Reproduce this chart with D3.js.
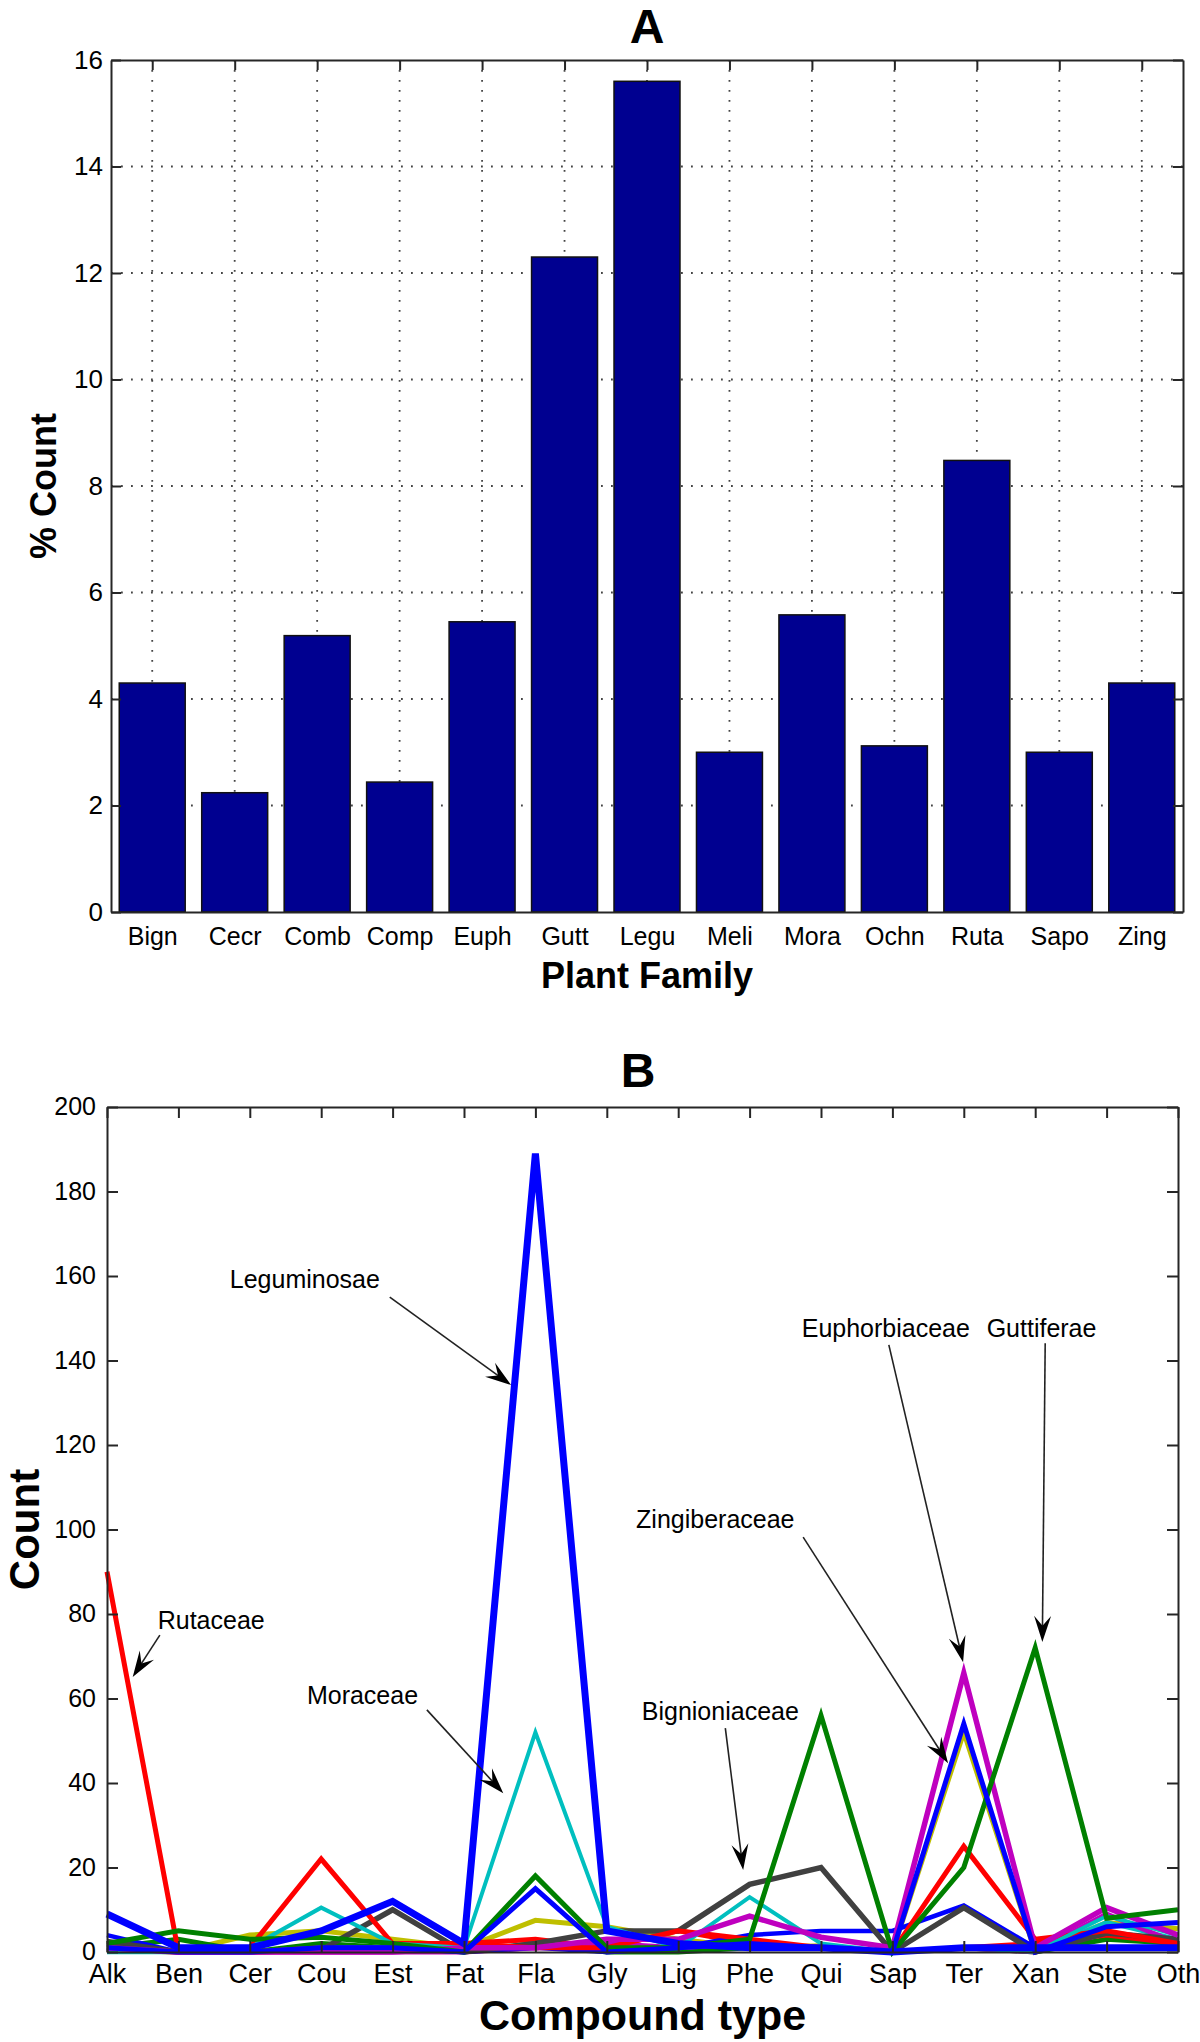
<!DOCTYPE html>
<html><head><meta charset="utf-8">
<script src="https://cdn.jsdelivr.net/npm/d3@7"></script>
<style>body{margin:0;background:#fff} svg{display:block}</style>
</head><body>
<svg id="c" width="1200" height="2042"></svg>
<script>
// ---------- DATA ----------
const plantFamilies = ["Bign","Cecr","Comb","Comp","Euph","Gutt","Legu","Meli","Mora","Ochn","Ruta","Sapo","Zing"];
const percentCount  = [4.30, 2.24, 5.19, 2.44, 5.45, 12.30, 15.60, 3.00, 5.58, 3.12, 8.48, 3.00, 4.30];
const yTicksA = [0,2,4,6,8,10,12,14,16];

const compoundTypes = ["Alk","Ben","Cer","Cou","Est","Fat","Fla","Gly","Lig","Phe","Qui","Sap","Ter","Xan","Ste","Oth"];
const yTicksB = [0,20,40,60,80,100,120,140,160,180,200];
//                   Alk Ben Cer  Cou  Est Fat  Fla Gly Lig Phe  Qui Sap  Ter Xan  Ste Oth
const combretaceae = [0.5, 0,  4,   5,   3,  1,  7.5, 6,  3,  1,  1.5, 0,  52,  0,   7, 5.5];
const compositae   = [4,   0,  0,   1,   1,  0,  1,   0,  1,  4,  5,   5,  11,  1,   1,   1];
const meliaceae    = [1,   3,  0,   2,   1,  0,  2,   0,  0,  1,  1,   0,   1,  0,   3,   2];
const ochnaceae    = [0.5, 0,  0,   1,   1,  2,  3,   1,  5,  2,  1,   0,   1,  2,   4,   2];
const cecropiaceae = [0,   0,  0,   1,   1,  0,  2,   1,  1,  2,  1,   0,   1,  0,   7,   3];
const sapotaceae   = [1,   0,  0,   0,   0,  0,  1,   2,  1,  2,  1,   0,   1,  0,   9,   2];
const bignioniaceae= [2.5, 0,  0, 0.5,  10,  0,  2,   5,  5, 16, 20,   0, 10.5, 0, 4.5,   3];
const rutaceae     = [90,  0,  1,  22,   2,  2,  1,   1,  5,  3,  1,   0,  25,  3,   5,   2];
const moraceae     = [1,   0,  1, 10.5,  2,  1, 52,   6,  1, 13,  2,   0,   1,  0, 8.5,   4];
const euphorbiaceae= [1,   0,  0,   0,   0,  1,  1,   3,  3, 8.5, 3.5, 1,  66,  1, 10.5,  4];
const guttiferae   = [2,   5,  3, 3.5,   2,  0, 18,   1,  1,  3, 56,   0,  20, 72,   8,  10];
const zingiberaceae= [1,   0,  0,   1,   1,  0, 15,   0,  1,  2,  1,   0,  54,  0,   6,   7];
const leguminosae  = [9,   1,  1,   5,  12,  2, 189,  5,  2,  1,  1,   0,   1,  1,   1,   1];

const seriesB = [
  {name:"Combretaceae", values:combretaceae, color:"#bfbf00", w:5},
  {name:"Meliaceae", values:meliaceae, color:"#008000", w:5},
  {name:"Ochnaceae", values:ochnaceae, color:"#ff0000", w:5},
  {name:"Cecropiaceae", values:cecropiaceae, color:"#00bfbf", w:4.5},
  {name:"Sapotaceae", values:sapotaceae, color:"#bf00bf", w:5},
  {name:"Compositae", values:compositae, color:"#0000ff", w:4.5},
  {name:"Bignioniaceae", values:bignioniaceae, color:"#404040", w:5.5},
  {name:"Rutaceae", values:rutaceae, color:"#ff0000", w:5},
  {name:"Moraceae", values:moraceae, color:"#00bfbf", w:4},
  {name:"Euphorbiaceae", values:euphorbiaceae, color:"#bf00bf", w:5.5},
  {name:"Guttiferae", values:guttiferae, color:"#008000", w:5},
  {name:"Zingiberaceae", values:zingiberaceae, color:"#0000ff", w:5},
  {name:"Leguminosae", values:leguminosae, color:"#0000ff", w:7}
];

// annotations: text anchor (category index, value), arrow start and tip
const annotations = [
  {label:"Leguminosae",   tx:1.72,  tv:157.2, sx:3.96,  sv:155.0, ex:5.66,  ev:134.2},
  {label:"Moraceae",      tx:2.80,  tv:58.7,  sx:4.48,  sv:57.3,  ex:5.55,  ev:37.6},
  {label:"Rutaceae",      tx:0.71,  tv:76.4,  sx:0.74,  sv:75.0,  ex:0.36,  ev:65.1},
  {label:"Bignioniaceae", tx:7.49,  tv:54.9,  sx:8.66,  sv:53.0,  ex:8.91,  ev:19.4},
  {label:"Zingiberaceae", tx:7.41,  tv:100.4, sx:9.75,  sv:98.2,  ex:11.78, ev:44.7},
  {label:"Euphorbiaceae", tx:9.73,  tv:145.6, sx:10.95, sv:143.7, ex:11.99, ev:68.6},
  {label:"Guttiferae",    tx:12.32, tv:145.6, sx:13.14, sv:144.1, ex:13.10, ev:73.4}
];

// ---------- DRAW ----------
const svg = d3.select("#c");
svg.append("rect").attr("width",1200).attr("height",2042).attr("fill","#fff");
const FONT = "'Liberation Sans', Arial, Helvetica, sans-serif";
const AX = "#262626";

// ===== Chart A =====
const A = {l:111, r:1183, t:60, b:912};
const xA = d3.scaleLinear().domain([0.5, plantFamilies.length + 0.5]).range([A.l, A.r]);
const yA = d3.scaleLinear().domain([0,16]).range([A.b, A.t]);
const gA = svg.append("g");

// grid
gA.append("g").selectAll("line").data(plantFamilies).join("line")
  .attr("x1",(d,i)=>xA(i+1)).attr("x2",(d,i)=>xA(i+1))
  .attr("y1",A.t).attr("y2",A.b)
  .attr("stroke","#444").attr("stroke-width",1.8).attr("stroke-dasharray","1.8,8.2");
gA.append("g").selectAll("line").data(yTicksA.filter(v=>v>0&&v<16)).join("line")
  .attr("x1",A.l).attr("x2",A.r).attr("y1",d=>yA(d)).attr("y2",d=>yA(d))
  .attr("stroke","#444").attr("stroke-width",1.8).attr("stroke-dasharray","1.8,8.2");

// bars
const bw = 0.8;
gA.append("g").selectAll("rect").data(percentCount).join("rect")
  .attr("x",(d,i)=>xA(i+1-bw/2)).attr("width",xA(1+bw)-xA(1))
  .attr("y",d=>yA(d)).attr("height",d=>yA(0)-yA(d))
  .attr("fill","#000090").attr("stroke","#111").attr("stroke-width",1.5);

// axes A
const tickIdxA = plantFamilies.map((d,i)=>i+1);
const axL = gA.append("g").attr("transform",`translate(${A.l},0)`)
  .call(d3.axisLeft(yA).tickValues(yTicksA).tickSize(-10).tickSizeOuter(0).tickPadding(8).tickFormat(d3.format("d")));
const axR = gA.append("g").attr("transform",`translate(${A.r},0)`)
  .call(d3.axisRight(yA).tickValues(yTicksA).tickSize(-10).tickSizeOuter(0).tickFormat(""));
const axT = gA.append("g").attr("transform",`translate(0,${A.t})`)
  .call(d3.axisTop(xA).tickValues(tickIdxA).tickSize(-10).tickSizeOuter(0).tickFormat(""));
const axB = gA.append("g").attr("transform",`translate(0,${A.b})`)
  .call(d3.axisBottom(xA).tickValues(tickIdxA).tickSize(0).tickSizeOuter(0).tickPadding(15).tickFormat(d=>plantFamilies[d-1]));
[axL,axR,axT,axB].forEach(g=>{
  g.selectAll("path.domain").attr("stroke",AX).attr("stroke-width",2);
  g.selectAll(".tick line").attr("stroke",AX).attr("stroke-width",2);
  g.selectAll("text").attr("font-family",FONT).attr("font-size",26).attr("fill","#000");
});
axB.selectAll("text").attr("font-size",25);

gA.append("text").attr("x",(A.l+A.r)/2).attr("y",43).attr("text-anchor","middle")
  .attr("font-family",FONT).attr("font-weight","bold").attr("font-size",48).text("A");
gA.append("text").attr("x",(A.l+A.r)/2).attr("y",988).attr("text-anchor","middle")
  .attr("font-family",FONT).attr("font-weight","bold").attr("font-size",36).text("Plant Family");
gA.append("text").attr("transform",`translate(56,${(A.t+A.b)/2}) rotate(-90)`).attr("text-anchor","middle")
  .attr("font-family",FONT).attr("font-weight","bold").attr("font-size",36).text("% Count");

// ===== Chart B =====
const B = {l:107, r:1178, t:1107, b:1952};
const xB = d3.scalePoint().domain(compoundTypes).range([B.l, B.r]);
const xi = d3.scaleLinear().domain([0, compoundTypes.length-1]).range([B.l, B.r]);
const yB = d3.scaleLinear().domain([0,200]).range([B.b, B.t]);
const gB = svg.append("g");

const line = d3.line().x((d,i)=>xB(compoundTypes[i])).y(d=>yB(d));
gB.append("g").selectAll("path").data(seriesB).join("path")
  .attr("d",s=>line(s.values)).attr("fill","none")
  .attr("stroke",s=>s.color).attr("stroke-width",s=>s.w)
  .attr("stroke-linejoin","miter").attr("stroke-miterlimit",10);

const bL = gB.append("g").attr("transform",`translate(${B.l},0)`)
  .call(d3.axisLeft(yB).tickValues(yTicksB).tickSize(-11).tickSizeOuter(0).tickPadding(11));
const bR = gB.append("g").attr("transform",`translate(${B.r},0)`)
  .call(d3.axisRight(yB).tickValues(yTicksB).tickSize(-11).tickSizeOuter(0).tickFormat(""));
const bT = gB.append("g").attr("transform",`translate(0,${B.t})`)
  .call(d3.axisTop(xB).tickSize(-11).tickSizeOuter(0).tickFormat(""));
const bB = gB.append("g").attr("transform",`translate(0,${B.b})`)
  .call(d3.axisBottom(xB).tickSize(-11).tickSizeOuter(0).tickPadding(12));
[bL,bR,bT,bB].forEach(g=>{
  g.selectAll("path.domain").attr("stroke",AX).attr("stroke-width",2);
  g.selectAll(".tick line").attr("stroke",AX).attr("stroke-width",2);
  g.selectAll("text").attr("font-family",FONT).attr("font-size",25).attr("fill","#000");
});
bL.selectAll(".tick text").attr("dy","0.3em");
bB.selectAll("text").attr("font-size",27).attr("dy",null).attr("y",31);

gB.append("text").attr("x",638).attr("y",1087).attr("text-anchor","middle")
  .attr("font-family",FONT).attr("font-weight","bold").attr("font-size",48).text("B");
gB.append("text").attr("x",(B.l+B.r)/2).attr("y",2030).attr("text-anchor","middle")
  .attr("font-family",FONT).attr("font-weight","bold").attr("font-size",43).text("Compound type");
gB.append("text").attr("transform",`translate(39,${(B.t+B.b)/2}) rotate(-90)`).attr("text-anchor","middle")
  .attr("font-family",FONT).attr("font-weight","bold").attr("font-size",42).text("Count");

// annotations
const gN = gB.append("g");
annotations.forEach(a=>{
  gN.append("text").attr("x",xi(a.tx)).attr("y",yB(a.tv))
    .attr("font-family",FONT).attr("font-size",25).attr("fill","#000").text(a.label);
  const x1=xi(a.sx), y1=yB(a.sv), x2=xi(a.ex), y2=yB(a.ev);
  const dx=x2-x1, dy=y2-y1, len=Math.hypot(dx,dy), ux=dx/len, uy=dy/len, nx=-uy, ny=ux;
  const L=26, W=17;
  gN.append("line").attr("x1",x1).attr("y1",y1).attr("x2",x2-ux*L*0.6).attr("y2",y2-uy*L*0.6)
    .attr("stroke","#222").attr("stroke-width",1.6);
  const p=[[x2,y2],[x2-ux*L+nx*W/2,y2-uy*L+ny*W/2],[x2-ux*L*0.62,y2-uy*L*0.62],[x2-ux*L-nx*W/2,y2-uy*L-ny*W/2]];
  gN.append("path").attr("d","M"+p.map(q=>q.join(",")).join("L")+"Z").attr("fill","#000");
});
</script>
</body></html>
